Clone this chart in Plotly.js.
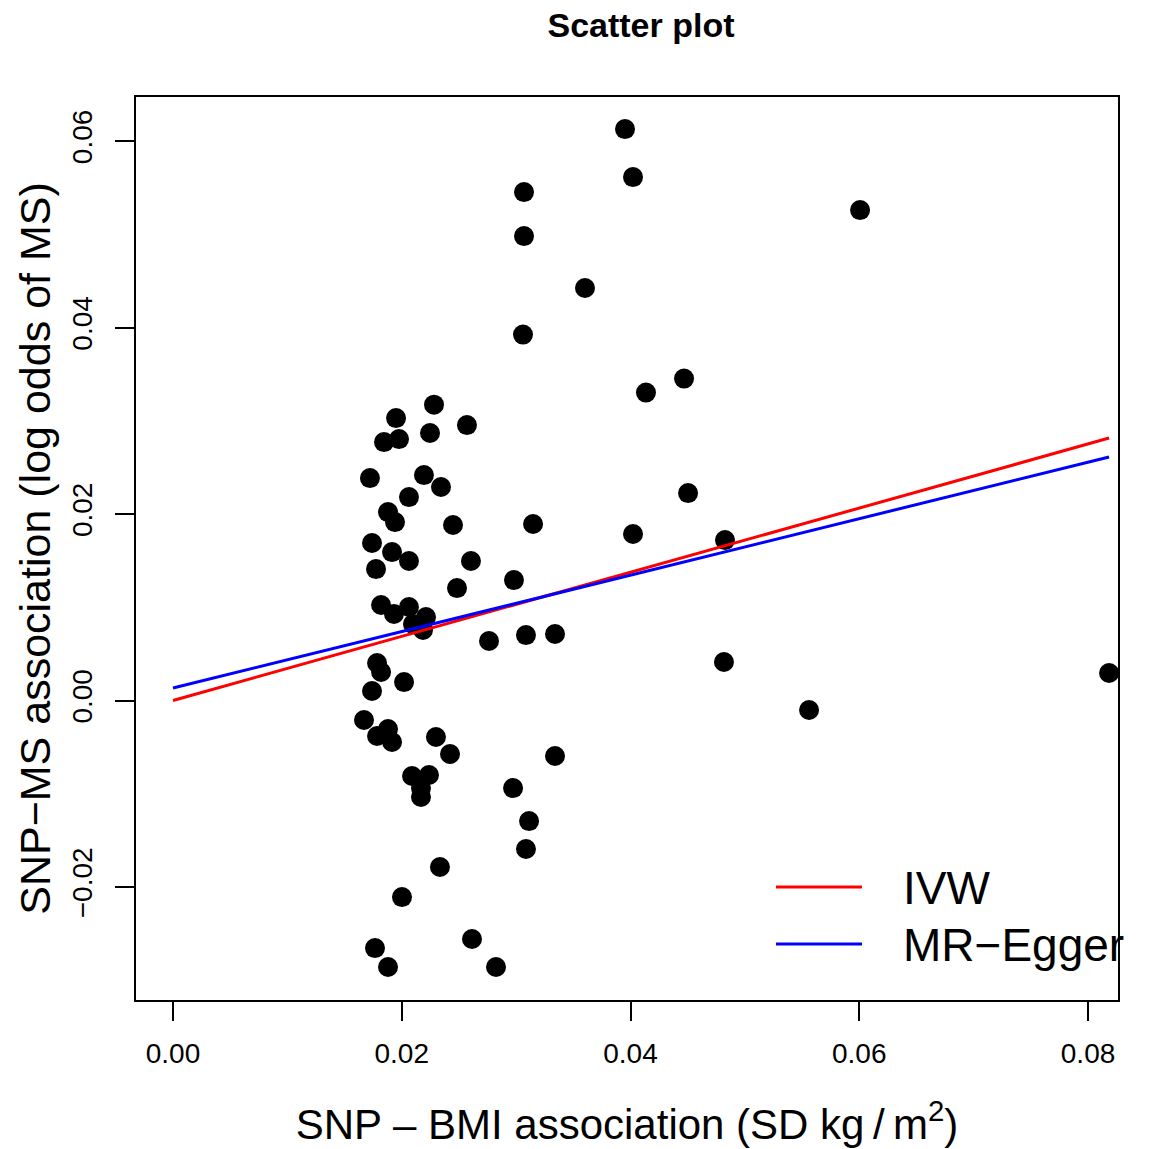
<!DOCTYPE html>
<html>
<head>
<meta charset="utf-8">
<script src="https://cdn.plot.ly/plotly-3.0.1.min.js"></script>
<style>html,body{margin:0;padding:0;background:#fff;}#chart{width:1152px;height:1149px;}</style>
</head>
<body>
<div id="chart"></div>
<script>
// SNP-BMI association (x) and SNP-MS association (y)
const snpBmi = [
  0.03952, 0.04022, 0.06007, 0.03069, 0.03069, 0.03602, 0.03060, 0.04468, 0.04135, 0.02282,
  0.01950, 0.02570, 0.02247, 0.01845, 0.01976, 0.01722, 0.02194, 0.02343, 0.02063, 0.04503,
  0.01880, 0.01941, 0.02448, 0.03148, 0.04022, 0.04826, 0.01740, 0.01915, 0.02063, 0.02605,
  0.01775, 0.02981, 0.02483, 0.01819, 0.02063, 0.01932, 0.02212, 0.02098, 0.02186, 0.02763,
  0.03086, 0.03340, 0.01784, 0.01819, 0.04817, 0.01740, 0.02020, 0.08184, 0.05561, 0.01670,
  0.01784, 0.01880, 0.01915, 0.02299, 0.02422, 0.03340, 0.02090, 0.02238, 0.02168, 0.02168,
  0.02973, 0.03113, 0.03086, 0.02334, 0.02002, 0.01766, 0.02614, 0.01880, 0.02824
];
const snpMs = [
  0.06129, 0.05614, 0.05260, 0.05453, 0.04981, 0.04424, 0.03925, 0.03453, 0.03303, 0.03173,
  0.03029, 0.02954, 0.02869, 0.02772, 0.02804, 0.02386, 0.02418, 0.02290, 0.02182, 0.02225,
  0.02021, 0.01914, 0.01882, 0.01893, 0.01786, 0.01721, 0.01689, 0.01592, 0.01496, 0.01496,
  0.01410, 0.01292, 0.01206, 0.01024, 0.01003, 0.00928, 0.00895, 0.00820, 0.00756, 0.00638,
  0.00702, 0.00713, 0.00402, 0.00306, 0.00413, 0.00102, 0.00198, 0.00295, -0.00102, -0.00209,
  -0.00381, -0.00306, -0.00445, -0.00391, -0.00574, -0.00595, -0.00810, -0.00799, -0.00939, -0.01035,
  -0.00939, -0.01293, -0.01593, -0.01786, -0.02108, -0.02655, -0.02558, -0.02858, -0.02858
];
// Fitted lines
const methods = ["IVW", "MR\u2212Egger"];
const slopes = [0.344, 0.3027];
const intercepts = [0, 0.00134];
const lineColors = ["#FF0000", "#0000FF"];
const xTicks = [0, 0.02, 0.04, 0.06, 0.08];
const yTicks = [-0.02, 0, 0.02, 0.04, 0.06];

const xMax = Math.max(...snpBmi);
const traces = [{
  type: "scatter", mode: "markers", x: snpBmi, y: snpMs,
  marker: {color: "#000", size: 20, line: {width: 0}}, showlegend: false, hoverinfo: "x+y"
}];
methods.forEach((m, i) => {
  traces.push({
    type: "scatter", mode: "lines", name: m,
    x: [0, xMax], y: [intercepts[i], intercepts[i] + slopes[i] * xMax],
    line: {color: lineColors[i], width: 3}, showlegend: false
  });
});

// manual legend (paper coords)
const L = 136, R = 1118, T = 97, B = 1000;
const px = v => (v - L) / (R - L), py = v => (B - v) / (B - T);
const legendY = [887, 944];
const shapes = methods.map((m, i) => ({
  type: "line", xref: "paper", yref: "paper",
  x0: px(776), x1: px(862), y0: py(legendY[i]), y1: py(legendY[i]),
  line: {color: lineColors[i], width: 3}
}));
const annotations = methods.map((m, i) => ({
  xref: "paper", yref: "paper", x: px(901), y: py(legendY[i] + 1),
  xanchor: "left", yanchor: "middle", text: m, showarrow: false,
  font: {family: "Liberation Sans, Arial, sans-serif", size: 46, color: "#000"}
}));

const fam = "Liberation Sans, Arial, sans-serif";
const tickFont = {family: fam, size: 28, color: "#000"};
const layout = {
  width: 1152, height: 1149,
  margin: {l: L, r: 1152 - R, t: T, b: 1149 - B, pad: 0},
  paper_bgcolor: "#fff", plot_bgcolor: "#fff",
  title: {text: "<b>Scatter plot</b>", x: 641 / 1152, xref: "container", xanchor: "center",
          y: 1 - 25 / 1149, yref: "container", yanchor: "middle",
          font: {family: fam, size: 34, color: "#000"}},
  xaxis: {
    range: [-0.003235, 0.08262], tickvals: xTicks, tickformat: ".2f",
    showline: true, mirror: true, linecolor: "#000", linewidth: 2,
    ticks: "outside", ticklen: 19, tickwidth: 2, tickcolor: "#000",
    showgrid: false, zeroline: false, tickfont: tickFont, ticklabelstandoff: 8,
    title: {text: "SNP \u2013 BMI association (SD kg\u2009/\u2009m<sup>2</sup>)", standoff: 42,
            font: {family: fam, size: 42, color: "#000"}}
  },
  yaxis: {
    range: [-0.03212, 0.06473], tickvals: yTicks, tickformat: ".2f", tickangle: -90,
    showline: true, mirror: true, linecolor: "#000", linewidth: 2,
    ticks: "outside", ticklen: 19, tickwidth: 2, tickcolor: "#000",
    showgrid: false, zeroline: false, tickfont: tickFont, ticklabelstandoff: 12,
    title: {text: "SNP\u2212MS association (log odds of MS)", standoff: 3,
            font: {family: fam, size: 43, color: "#000"}}
  },
  shapes: shapes, annotations: annotations
};
Plotly.newPlot("chart", traces, layout, {displayModeBar: false, staticPlot: true});
</script>
</body>
</html>
